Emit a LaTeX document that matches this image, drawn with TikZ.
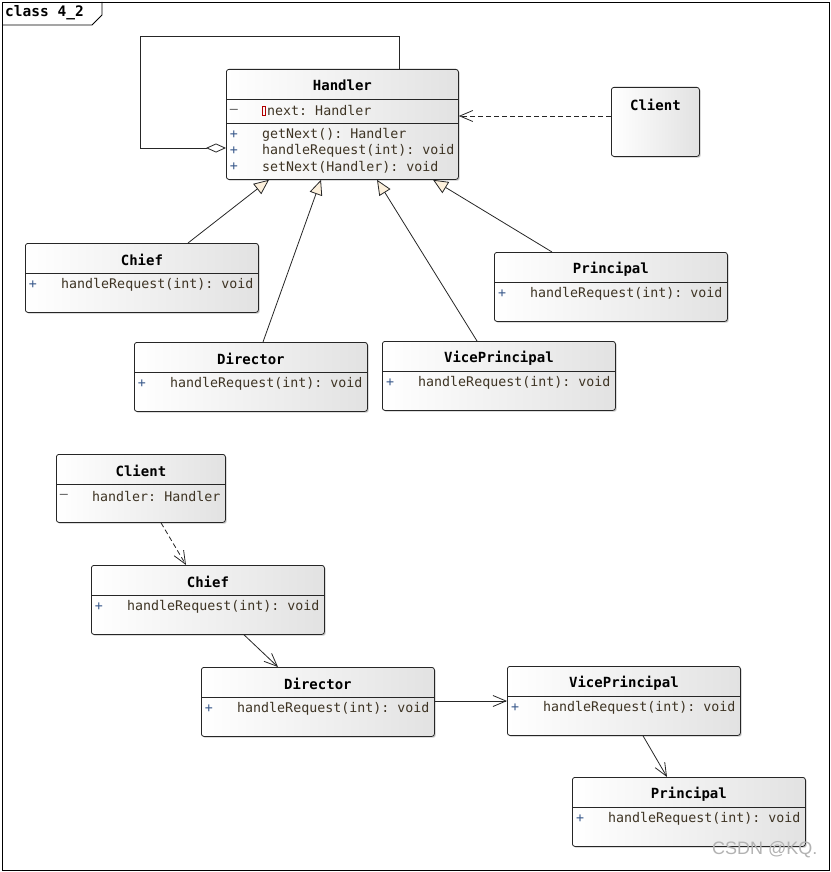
\documentclass[tikz,border=0pt]{standalone}
\usepackage{fontspec}
\setmonofont{DejaVu Sans Mono}
\newfontfamily\markfont{Liberation Sans}
\usetikzlibrary{calc,arrows.meta,shadows}
\definecolor{membertext}{HTML}{3E3424}
\definecolor{vistext}{HTML}{3A5A8C}
\definecolor{tricream}{HTML}{FCF0DC}
\definecolor{boxgrey}{HTML}{E2E2E2}
\tikzset{
	classbox/.style={draw=black!85, line width=0.8pt, rounded corners=2.5pt, left color=white, right color=boxgrey,
		anchor=north west, minimum width=233pt, minimum height=69pt, inner sep=0pt,
		drop shadow={shadow xshift=1.3pt, shadow yshift=-1.3pt, opacity=0.3, fill=black!70}},
	divline/.style={draw=black!85, line width=0.8pt},
	cname/.style={font=\ttfamily\bfseries\fontsize{14}{16}\selectfont, inner sep=0pt},
	vis/.style={font=\ttfamily\fontsize{13.3}{15}\selectfont, text=vistext, inner sep=0pt},
	member/.style={font=\ttfamily\fontsize{13.3}{15}\selectfont, text=membertext, anchor=west, inner sep=0pt},
	conn/.style={draw=black!85, line width=0.8pt},
	dep/.style={conn, dash pattern=on 5pt off 3pt, -{Straight Barb[length=13pt,width=11pt]}},
	assoc/.style={conn, -{Straight Barb[length=13pt,width=11pt]}},
	inherit/.style={conn, -{Triangle[length=15pt,width=13pt,fill=tricream]}},
	aggr/.style={conn, {Diamond[length=20pt,width=9pt,fill=white]}-}
}
% one class with a single member row
\def\classbox(#1)(#2)#3#4#5{%
	\node[classbox] (#1) at (#2) {};
	\draw[divline] ($(#1.north west)+(0,30)$) -- ($(#1.north east)+(0,30)$);
	\node[cname] at ($(#1.north)+(0,17)$) {#3};
	\node[vis] at ($(#1.north west)+(8,42)$) {#4};
	\node[member] at ($(#1.north west)+(36,42)$) {#5};
}

\begin{document}
\begin{tikzpicture}[x=1pt, y=-1pt]
			%%%%% START %%%%%
			\useasboundingbox (0,0) rectangle (830,872);
			
			% frame and tab
			\draw[line width=0.8pt] (2,2) rectangle (829,870);
			\draw[line width=0.8pt] (2,25) -- (92,25) -- (102,15) -- (102,2);
			\node[font=\ttfamily\bfseries\fontsize{14.5}{16}\selectfont, anchor=west, inner sep=0pt] (title) at (5,13) {class 4\_2};
			
			% upper diagram
			\node[classbox, minimum width=232pt, minimum height=110pt] (hHandler) at (226,69) {};
			\draw[divline] ($(hHandler.north west)+(0,30)$) -- ($(hHandler.north east)+(0,30)$);
			\draw[divline] ($(hHandler.north west)+(0,54)$) -- ($(hHandler.north east)+(0,54)$);
			\node[cname] at ($(hHandler.north)+(0,16)$) {Handler};
			\node[vis, text=black!70] at ($(hHandler.north west)+(8,42)$) {\textendash};
			\draw[draw=red!70!black, line width=0.4pt] ($(hHandler.north west)+(36.5,37.5)$) rectangle ($(hHandler.north west)+(39,46.5)$);
			\node[member] at ($(hHandler.north west)+(41,42)$) {next: Handler};
			\node[vis] at ($(hHandler.north west)+(8,66)$) {+};
			\node[member] at ($(hHandler.north west)+(36,66)$) {getNext(): Handler};
			\node[vis] at ($(hHandler.north west)+(8,82)$) {+};
			\node[member] at ($(hHandler.north west)+(36,82)$) {handleRequest(int): void};
			\node[vis] at ($(hHandler.north west)+(8,98)$) {+};
			\node[member] at ($(hHandler.north west)+(36,98)$) {setNext(Handler): void};
			
			\node[classbox, minimum width=88pt, minimum height=69pt] (tClient) at (611,87) {};
			\node[cname] at ($(tClient.north)+(0,18)$) {Client};
			
			\classbox(tChief)(25,243){Chief}{+}{handleRequest(int): void}
			\classbox(tPrincipal)(494,252){Principal}{+}{handleRequest(int): void}
			\classbox(tDirector)(134,342){Director}{+}{handleRequest(int): void}
			\classbox(tVice)(382,341){VicePrincipal}{+}{handleRequest(int): void}
			
			\coordinate (loopA) at (140,36);
			\draw[aggr] ($(hHandler.north west)+(0,79)$) -| (loopA) -| ($(hHandler.north west)+(173,0)$);
			\draw[dep] ($(tClient.north west)+(0,29)$) -- ($(hHandler.north east)+(0,47)$);
			
			\draw[inherit] ($(tChief.north west)+(163,0)$) -- ($(hHandler.south west)+(43,0)$);
			\draw[inherit] ($(tDirector.north west)+(129,0)$) -- ($(hHandler.south west)+(95,0)$);
			\draw[inherit] ($(tVice.north west)+(95,0)$) -- ($(hHandler.south west)+(151,0)$);
			\draw[inherit] ($(tPrincipal.north west)+(58,0)$) -- ($(hHandler.south west)+(207,0)$);
			
			% lower diagram
			\node[classbox, minimum width=169pt, minimum height=68pt] (bClient) at (56,454) {};
			\draw[divline] ($(bClient.north west)+(0,30)$) -- ($(bClient.north east)+(0,30)$);
			\node[cname] at ($(bClient.north)+(0,17)$) {Client};
			\node[vis, text=black!70] at ($(bClient.north west)+(8,42)$) {\textendash};
			\node[member] at ($(bClient.north west)+(36,42)$) {handler: Handler};
			
			\classbox(bChief)(91,565){Chief}{+}{handleRequest(int): void}
			\classbox(bDirector)(201,667){Director}{+}{handleRequest(int): void}
			\classbox(bVice)(507,666){VicePrincipal}{+}{handleRequest(int): void}
			\classbox(bPrincipal)(572,777){Principal}{+}{handleRequest(int): void}
			
			\draw[dep] ($(bClient.south west)+(105,0)$) -- ($(bChief.north west)+(95,0)$);
			\draw[assoc] ($(bChief.south west)+(153,0)$) -- ($(bDirector.north west)+(77,0)$);
			\draw[assoc] ($(bDirector.north east)+(0,34)$) -- ($(bVice.north west)+(0,35)$);
			\draw[assoc] ($(bVice.south west)+(136,0)$) -- ($(bPrincipal.north west)+(95,0)$);
			
			\node[font=\markfont\fontsize{18}{20}\selectfont, text=black!30, anchor=west, inner sep=0pt] (mark) at (712,850) {CSDN @KQ.};
			%%%%% END %%%%%
\end{tikzpicture}
\end{document}
